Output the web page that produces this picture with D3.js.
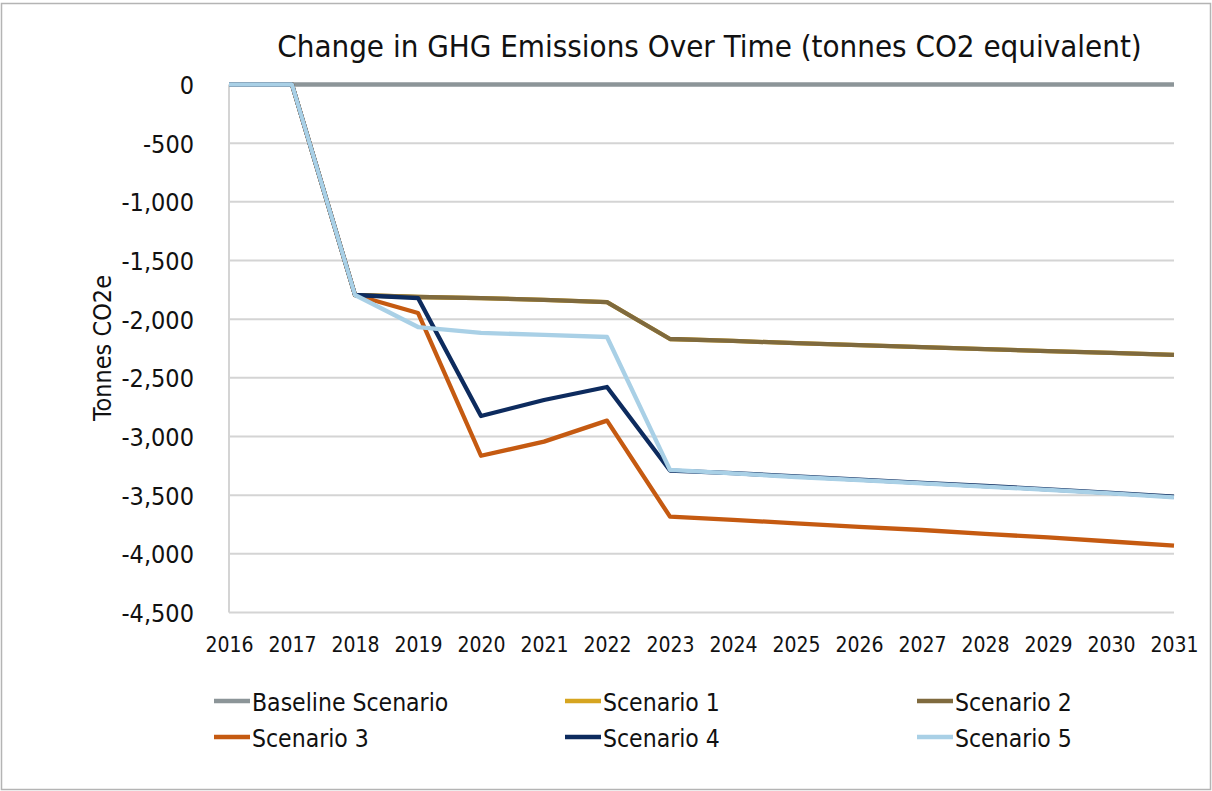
<!DOCTYPE html>
<html>
<head>
<meta charset="utf-8">
<script src="https://cdn.jsdelivr.net/npm/d3@7"></script>
<style>
  html, body { margin: 0; padding: 0; background: #ffffff; }
  svg { display: block; }
  text { font-family: "DejaVu Sans Condensed", "DejaVu Sans", sans-serif; fill: #111; }
</style>
</head>
<body>
<svg id="chart" width="1212" height="791"></svg>
<script>
// ---- data ----
const years = [2016, 2017, 2018, 2019, 2020, 2021, 2022, 2023, 2024, 2025, 2026, 2027, 2028, 2029, 2030, 2031];
const baseline  = [0, 0, 0, 0, 0, 0, 0, 0, 0, 0, 0, 0, 0, 0, 0, 0];
const scenario1 = [0, 0, -1794, -1811, -1820, -1835, -1854, -2169, -2185, -2205, -2222, -2238, -2255, -2272, -2288, -2305];
const scenario2 = [0, 0, -1794, -1811, -1820, -1835, -1854, -2169, -2185, -2205, -2222, -2238, -2255, -2272, -2288, -2305];
const scenario3 = [0, 0, -1794, -1947, -3164, -3044, -2865, -3683, -3710, -3740, -3770, -3797, -3830, -3860, -3895, -3930];
const scenario4 = [0, 0, -1794, -1820, -2825, -2689, -2578, -3290, -3312, -3340, -3368, -3395, -3422, -3450, -3480, -3512];
const scenario5 = [0, 0, -1794, -2067, -2117, -2134, -2152, -3285, -3315, -3345, -3372, -3400, -3427, -3455, -3485, -3518];
const seriesNames = ["Baseline Scenario", "Scenario 1", "Scenario 2", "Scenario 3", "Scenario 4", "Scenario 5"];
const seriesColors = ["#8c9598", "#d6a520", "#7f6a3e", "#c55a11", "#0d2b5e", "#a9d0e6"];
const yTicks = [0, -500, -1000, -1500, -2000, -2500, -3000, -3500, -4000, -4500];
const titleText = "Change in GHG Emissions Over Time (tonnes CO2 equivalent)";
const yAxisTitle = "Tonnes CO2e";

const seriesValues = [baseline, scenario1, scenario2, scenario3, scenario4, scenario5];

// ---- layout ----
const svg = d3.select("#chart");
const W = 1212, H = 791;
const plot = { left: 229, right: 1174, top: 84.5, bottom: 612.5 };

// outer border
svg.append("rect")
  .attr("x", 1.5).attr("y", 3.5).attr("width", W - 3).attr("height", H - 5)
  .attr("fill", "#fff").attr("stroke", "#b4b4b4").attr("stroke-width", 1.5);

const x = d3.scalePoint().domain(years).range([plot.left, plot.right]);
const y = d3.scaleLinear().domain([-4500, 0]).range([plot.bottom, plot.top]);

// gridlines
svg.append("g").selectAll("line").data(yTicks).join("line")
  .attr("x1", plot.left).attr("x2", plot.right)
  .attr("y1", d => y(d)).attr("y2", d => y(d))
  .attr("stroke", "#d4d4d4").attr("stroke-width", 2);

// left axis line
svg.append("line")
  .attr("x1", plot.left).attr("x2", plot.left)
  .attr("y1", plot.top).attr("y2", plot.bottom)
  .attr("stroke", "#d4d4d4").attr("stroke-width", 2);

// y axis labels via d3 axis
const fmt = d3.format(",");
const yAxis = d3.axisLeft(y).tickValues(yTicks).tickSize(0).tickPadding(35)
  .tickFormat(d => fmt(d).replace("−", "-"));
const gy = svg.append("g").attr("transform", `translate(${plot.left},0)`).call(yAxis);
gy.select(".domain").remove();
gy.selectAll("text")
  .attr("font-size", 25)
  .attr("font-family", '"DejaVu Sans Condensed", "DejaVu Sans", sans-serif')
  .attr("fill", "#111")
  .attr("dy", "0.36em");

// x axis labels via d3 axis
const xAxis = d3.axisBottom(x).tickSize(0).tickPadding(0);
const gx = svg.append("g").attr("transform", `translate(0,${plot.bottom})`).call(xAxis);
gx.select(".domain").remove();
gx.selectAll("text")
  .attr("font-size", 21)
  .attr("font-family", '"DejaVu Sans Condensed", "DejaVu Sans", sans-serif')
  .attr("fill", "#111")
  .attr("y", 39.5).attr("dy", 0);

// lines
const line = d3.line().x((d, i) => x(years[i])).y(d => y(d));
svg.append("g").selectAll("path").data(seriesValues).join("path")
  .attr("d", d => line(d))
  .attr("fill", "none")
  .attr("stroke", (d, i) => seriesColors[i])
  .attr("stroke-width", 4.3)
  .attr("stroke-linejoin", "round")
  .attr("stroke-linecap", "butt");

// title
svg.append("text")
  .attr("x", 709.5).attr("y", 57)
  .attr("text-anchor", "middle")
  .attr("font-size", 31)
  .text(titleText);

// y axis title
svg.append("text")
  .attr("transform", "translate(111,348) rotate(-90)")
  .attr("text-anchor", "middle")
  .attr("font-size", 25)
  .text(yAxisTitle);

// legend
const legendCols = [214, 565, 917];
const legendRows = [701, 737];
const lg = svg.append("g").selectAll("g").data(seriesNames).join("g")
  .attr("transform", (d, i) => `translate(${legendCols[i % 3]},${legendRows[Math.floor(i / 3)]})`);
lg.append("line")
  .attr("x1", 0).attr("x2", 36).attr("y1", 0).attr("y2", 0)
  .attr("stroke", (d, i) => seriesColors[i]).attr("stroke-width", 4.5);
lg.append("text")
  .attr("x", 38).attr("y", 9.5)
  .attr("font-size", 24.5)
  .text(d => d);
</script>
</body>
</html>
